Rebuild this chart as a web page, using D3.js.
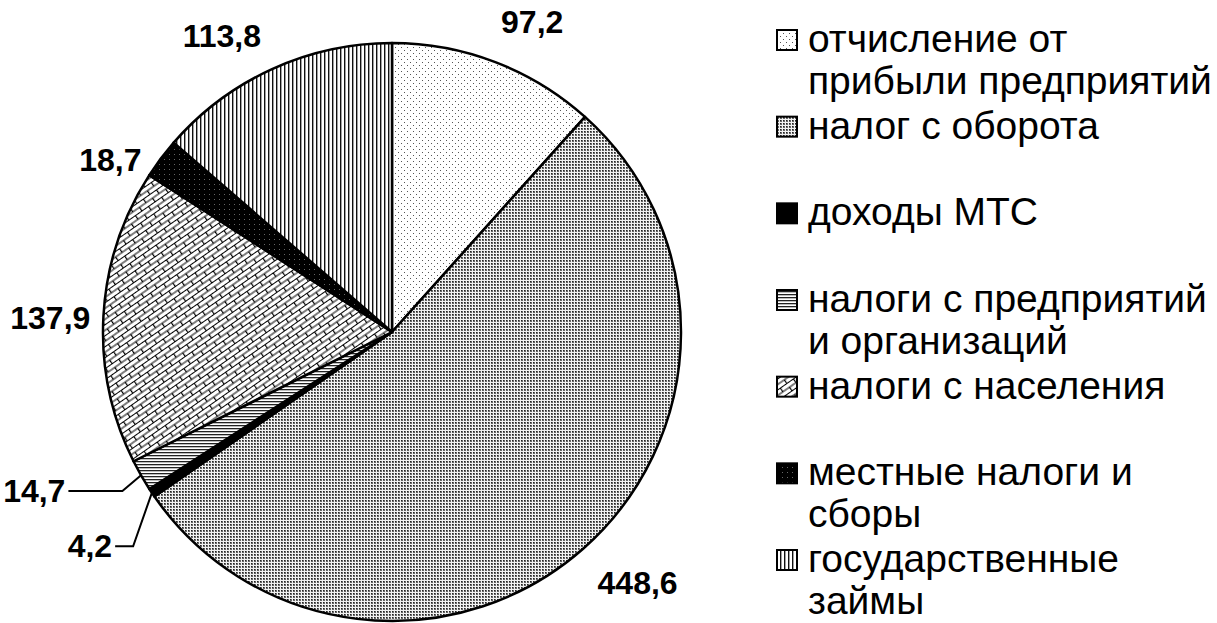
<!DOCTYPE html>
<html>
<head>
<meta charset="utf-8">
<script src="https://cdn.jsdelivr.net/npm/d3@7"></script>
<style>
  body { margin: 0; background: #fff; }
  text { font-family: 'Liberation Sans', Arial, sans-serif; }
</style>
</head>
<body>
<div id="pie"></div>
<script>
// данные
let categories = ['отчисление от прибыли предприятий', 'налог с оборота', 'доходы МТС',
  'налоги с предприятий и организаций', 'налоги с населения', 'местные налоги и сборы', 'государственные займы']
let values = [97.2, 448.6, 4.2, 14.7, 137.9, 18.7, 113.8]
let valueLabels = ['97,2', '448,6', '4,2', '14,7', '137,9', '18,7', '113,8']
let legendLines = [['отчисление от', 'прибыли предприятий'], ['налог с оборота'], ['доходы МТС'],
  ['налоги с предприятий', 'и организаций'], ['налоги с населения'], ['местные налоги и', 'сборы'],
  ['государственные', 'займы']]
let patterns = ['dots', 'gray', 'black', 'hstripe', 'brick', 'darkdots', 'vstripe']

let width = 1217
let height = 623
let cx = 392, cy = 332, r = 289

let svg = d3.select('#pie').append('svg')
  .attr('width', width)
  .attr('height', height)

// узоры заливки
let defs = svg.append('defs')
let pat = (id, w, h) => defs.append('pattern').attr('id', id)
  .attr('patternUnits', 'userSpaceOnUse').attr('width', w).attr('height', h)

let p1 = pat('dots', 6, 6)
p1.append('rect').attr('width', 6).attr('height', 6).attr('fill', '#fff')
p1.append('rect').attr('x', 0).attr('y', 0).attr('width', 1).attr('height', 1).attr('fill', '#555')
p1.append('rect').attr('x', 3).attr('y', 3).attr('width', 1).attr('height', 1).attr('fill', '#555')

let p2 = pat('gray', 3, 3)
p2.append('rect').attr('width', 3).attr('height', 3).attr('fill', '#f2f2f2')
p2.append('rect').attr('width', 2).attr('height', 2).attr('fill', '#666')
p2.append('rect').attr('width', 1).attr('height', 1).attr('fill', '#222')

let p3 = pat('black', 4, 4)
p3.append('rect').attr('width', 4).attr('height', 4).attr('fill', '#000')

let p4 = pat('hstripe', 4, 3)
p4.append('rect').attr('width', 4).attr('height', 3).attr('fill', '#fff')
p4.append('rect').attr('width', 4).attr('height', 1.3).attr('fill', '#222')

let p5 = pat('brick', 16, 9).attr('patternTransform', 'rotate(-35)')
p5.append('rect').attr('width', 16).attr('height', 9).attr('fill', '#fff')
p5.append('path')
  .attr('d', 'M0,0.5H16M0,5H16M0.6,0.5V5M8.6,5V9')
  .attr('stroke', '#000').attr('stroke-width', 1.2).attr('fill', 'none')

let p6 = pat('darkdots', 5, 5)
p6.append('rect').attr('width', 5).attr('height', 5).attr('fill', '#000')
p6.append('rect').attr('x', 2).attr('y', 2).attr('width', 1).attr('height', 1).attr('fill', '#666')

let p7 = pat('vstripe', 4, 4)
p7.append('rect').attr('width', 4).attr('height', 4).attr('fill', '#fff')
p7.append('rect').attr('width', 1.4).attr('height', 4).attr('fill', '#111')

// круговая диаграмма
let pie = d3.pie().sort(null).value(d => d)
let arcs = pie(values)
let arc = d3.arc().innerRadius(0).outerRadius(r)

let g = svg.append('g').attr('transform', `translate(${cx},${cy})`)
g.selectAll('path.slice').data(arcs).enter().append('path')
  .attr('class', 'slice')
  .attr('d', arc)
  .attr('fill', (d, i) => `url(#${patterns[i]})`)
  .attr('stroke', '#000')
  .attr('stroke-width', 2.5)
  .attr('stroke-linejoin', 'round')

let polar = (a, rad) => [rad * Math.sin(a), -rad * Math.cos(a)]
let deg = Math.PI / 180

// подписи: сдвиг угла (град.) и радиус центра подписи
let labelLayout = [[3.4, 340], [-3, 351], null, null, [-0.8, 342], [-5.5, 330], [-5.4, 341]]
arcs.forEach((d, i) => {
  let mid = (d.startAngle + d.endAngle) / 2
  let lay = labelLayout[i]
  if (lay) {
    let [x, y] = polar(mid + lay[0] * deg, lay[1])
    g.append('text')
      .attr('x', x).attr('y', y + 11)
      .attr('text-anchor', 'middle')
      .attr('font-size', 32).attr('font-weight', 'bold')
      .text(valueLabels[i])
  }
})

// выноски для мелких секторов: сдвиг угла, радиус излома, длина горизонтали
let leaderLayout = {2: [-5.8, 336, 18], 3: [-0.8, 313, 54]}
Object.keys(leaderLayout).forEach(k => {
  let i = +k
  let d = arcs[i]
  let mid = (d.startAngle + d.endAngle) / 2
  let lay = leaderLayout[k]
  let p0 = polar(mid, r)
  let p1 = polar(mid + lay[0] * deg, lay[1])
  let p2 = [p1[0] - lay[2], p1[1]]
  g.append('path')
    .attr('d', d3.line()([p0, p1, p2]))
    .attr('fill', 'none').attr('stroke', '#000').attr('stroke-width', 2)
  g.append('text')
    .attr('x', p2[0] - 3).attr('y', p2[1] + 11)
    .attr('text-anchor', 'end')
    .attr('font-size', 32).attr('font-weight', 'bold')
    .text(valueLabels[i])
})

// легенда
let legendY = d3.scaleLinear([0, categories.length - 1], [52, 572])
let leg = svg.append('g')
categories.forEach((c, i) => {
  let y = legendY(i)
  leg.append('rect')
    .attr('x', 777).attr('y', y - 22).attr('width', 20).attr('height', 20)
    .attr('fill', `url(#${patterns[i]})`)
    .attr('stroke', '#000').attr('stroke-width', 2)
  legendLines[i].forEach((t, j) => {
    leg.append('text')
      .attr('x', 808).attr('y', y + j * 42)
      .attr('font-size', 39)
      .attr('fill', '#000')
      .text(t)
  })
})
</script>
</body>
</html>
